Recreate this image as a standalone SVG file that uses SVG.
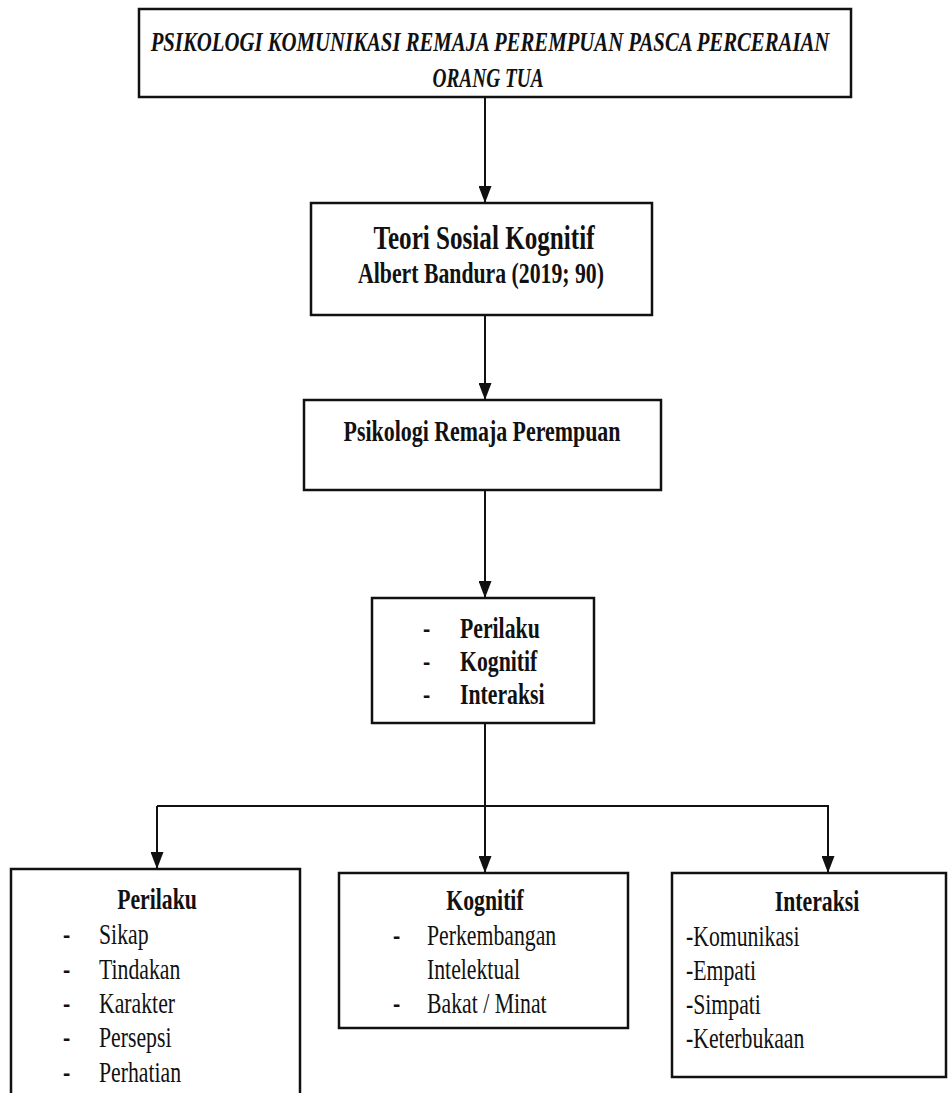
<svg xmlns="http://www.w3.org/2000/svg" width="949" height="1093" viewBox="0 0 949 1093">
<style>
.box{fill:#fff;stroke:#111;stroke-width:2.5}
.ln{fill:none;stroke:#111;stroke-width:2}
text{font-family:"Liberation Serif","Times New Roman",serif;fill:#111;font-size:29px}
.b{font-weight:bold}
.bi{font-weight:bold;font-style:italic;font-size:28px}
.big{font-size:33.5px}
.c{text-anchor:middle}
</style>
<defs>
<marker id="ah" viewBox="0 0 17 13" markerWidth="17" markerHeight="13" refX="17" refY="6.5" orient="auto" markerUnits="userSpaceOnUse">
<path d="M0,0 L17,6.5 L0,13 Z" fill="#111"/>
</marker>
</defs>
<rect width="949" height="1093" fill="#fff"/>
<g id="connectors">
<line class="ln" x1="485" y1="97" x2="485" y2="203" marker-end="url(#ah)"/>
<line class="ln" x1="485" y1="315" x2="485" y2="400" marker-end="url(#ah)"/>
<line class="ln" x1="485" y1="490" x2="485" y2="598" marker-end="url(#ah)"/>
<line class="ln" x1="485" y1="723" x2="485" y2="873" marker-end="url(#ah)"/>
<polyline class="ln" points="157,806 828,806 828,873" marker-end="url(#ah)"/>
<line class="ln" x1="157" y1="806" x2="157" y2="869" marker-end="url(#ah)"/>
</g>
<g id="n-title">
<rect class="box" x="139" y="9" width="712" height="88"/>
<text class="bi c" transform="translate(490,51) scale(0.742,1)">PSIKOLOGI KOMUNIKASI REMAJA PEREMPUAN PASCA PERCERAIAN</text>
<text class="bi c" transform="translate(488,87) scale(0.69,1)">ORANG TUA</text>
</g>
<g id="n-teori">
<rect class="box" x="311" y="203" width="341" height="112"/>
<text class="b c big" transform="translate(484,249) scale(0.75,1)">Teori Sosial Kognitif</text>
<text class="b c" transform="translate(481,283) scale(0.75,1)">Albert Bandura (2019; 90)</text>
</g>
<g id="n-psikologi">
<rect class="box" x="304" y="400" width="357" height="90"/>
<text class="b c" transform="translate(482,441) scale(0.755,1)">Psikologi Remaja Perempuan</text>
</g>
<g id="n-aspek">
<rect class="box" x="372" y="598" width="222" height="125"/>
<text class="b" transform="translate(423,638) scale(0.75,1)">-</text>
<text class="b" transform="translate(460,638) scale(0.75,1)">Perilaku</text>
<text class="b" transform="translate(423,671) scale(0.75,1)">-</text>
<text class="b" transform="translate(460,671) scale(0.75,1)">Kognitif</text>
<text class="b" transform="translate(423,704) scale(0.75,1)">-</text>
<text class="b" transform="translate(460,704) scale(0.75,1)">Interaksi</text>
</g>
<g id="n-perilaku">
<rect class="box" x="11" y="869" width="289" height="240"/>
<text class="b c" transform="translate(157,909) scale(0.75,1)">Perilaku</text>
<text class="b" transform="translate(63,944) scale(0.75,1)">-</text>
<text transform="translate(99,944) scale(0.75,1)">Sikap</text>
<text class="b" transform="translate(63,979) scale(0.75,1)">-</text>
<text transform="translate(99,979) scale(0.75,1)">Tindakan</text>
<text class="b" transform="translate(63,1013) scale(0.75,1)">-</text>
<text transform="translate(99,1013) scale(0.75,1)">Karakter</text>
<text class="b" transform="translate(63,1047) scale(0.75,1)">-</text>
<text transform="translate(99,1047) scale(0.75,1)">Persepsi</text>
<text class="b" transform="translate(63,1082) scale(0.75,1)">-</text>
<text transform="translate(99,1082) scale(0.75,1)">Perhatian</text>
</g>
<g id="n-kognitif">
<rect class="box" x="339" y="873" width="289" height="155"/>
<text class="b c" transform="translate(485,910) scale(0.75,1)">Kognitif</text>
<text class="b" transform="translate(393,945) scale(0.75,1)">-</text>
<text transform="translate(427,945) scale(0.75,1)">Perkembangan</text>
<text transform="translate(427,979) scale(0.75,1)">Intelektual</text>
<text class="b" transform="translate(393,1013) scale(0.75,1)">-</text>
<text transform="translate(427,1013) scale(0.75,1)">Bakat / Minat</text>
</g>
<g id="n-interaksi">
<rect class="box" x="672" y="873" width="274" height="204"/>
<text class="b c" transform="translate(817,911) scale(0.75,1)">Interaksi</text>
<text transform="translate(686,946) scale(0.75,1)">-Komunikasi</text>
<text transform="translate(686,980) scale(0.75,1)">-Empati</text>
<text transform="translate(686,1014) scale(0.75,1)">-Simpati</text>
<text transform="translate(686,1048) scale(0.75,1)">-Keterbukaan</text>
</g>
</svg>
